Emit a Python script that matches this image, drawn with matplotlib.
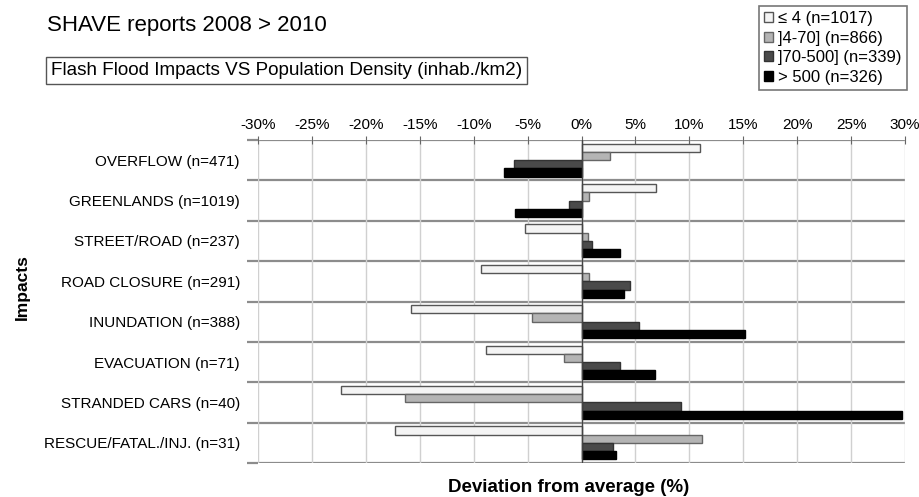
import matplotlib
matplotlib.use("Agg")
import matplotlib.pyplot as plt
from matplotlib.patches import Patch
import numpy as np

plt.rcParams['font.family'] = ['Liberation Sans', 'DejaVu Sans']

categories = ["OVERFLOW (n=471)", "GREENLANDS (n=1019)", "STREET/ROAD (n=237)",
              "ROAD CLOSURE (n=291)", "INUNDATION (n=388)", "EVACUATION (n=71)",
              "STRANDED CARS (n=40)", "RESCUE/FATAL./INJ. (n=31)"]
series_labels = ["≤ 4 (n=1017)", "]4-70] (n=866)", "]70-500] (n=339)", "> 500 (n=326)"]
low = [11.0, 6.9, -5.2, -9.3, -15.8, -8.9, -22.3, -17.3]
mid_low = [2.6, 0.7, 0.6, 0.7, -4.6, -1.6, -16.4, 11.2]
mid_high = [-6.3, -1.2, 1.0, 4.5, 5.3, 3.6, 9.2, 2.9]
high = [-7.2, -6.2, 3.6, 3.9, 15.2, 6.8, 29.7, 3.2]
xticks = list(range(-30, 31, 5))

series = [low, mid_low, mid_high, high]
fills = ["#f4f4f4", "#b4b4b4", "#4a4a4a", "#000000"]
edges = ["#555555", "#666666", "#333333", "#000000"]

W, H = 919, 497
fig = plt.figure(figsize=(W/100, H/100), dpi=100)
ax = fig.add_axes([258/W, 1-463/H, (905-258)/W, (463-140)/H])

n = len(categories)
h = 0.205
for k, (vals, fc, ec) in enumerate(zip(series, fills, edges)):
    y = np.arange(n) + 0.5 + (k - 1.5) * h
    ax.barh(y, vals, height=h, color=fc, edgecolor=ec, linewidth=1.0, zorder=3,
            label=series_labels[k])

ax.set_xlim(-30, 30)
ax.set_ylim(n, 0)
ax.xaxis.tick_top()
ax.set_xticks(xticks)
ax.set_xticklabels([f"{t}%" for t in xticks], fontsize=11)
ax.tick_params(axis='x', which='major', direction='inout', length=6, color='#666666',
               pad=3, top=True, bottom=False)
ax.grid(axis='x', color='#d0d0d0', linewidth=1.0, zorder=0)

# category separators
ax.set_yticks(np.arange(0, n + 1))
ax.set_yticklabels([])
ax.tick_params(axis='y', which='major', direction='out', length=8, width=1.6,
               color='#8c8c8c')
for yy in range(0, n + 1):
    ax.axhline(yy, color='#8c8c8c', linewidth=1.6, zorder=1)
ax.set_yticks(np.arange(n) + 0.5, minor=True)
ax.set_yticklabels(categories, minor=True, fontsize=11)
ax.tick_params(axis='y', which='minor', length=0, pad=13)

ax.axvline(0, color='#444444', linewidth=1.0, zorder=4)
for s in ax.spines.values():
    s.set_visible(False)

ax.set_xlabel("Deviation from average (%)", fontsize=13.5, fontweight='bold')
ax.xaxis.set_label_coords((569-258)/(905-258), (463-488)/(463-140))
ax.xaxis.label.set_va('center')
ax.set_ylabel("Impacts", fontsize=12.5, fontweight='bold')
ax.yaxis.set_label_coords((22-258)/(905-258), (463-287)/(463-140))
ax.yaxis.label.set_va('center')

fig.text(47/W, 1-25/H, "SHAVE reports 2008 > 2010", fontsize=16, va='center', ha='left')
fig.text(51/W, 1-70.5/H, "Flash Flood Impacts VS Population Density (inhab./km2)",
         fontsize=13.6, va='center', ha='left',
         bbox=dict(boxstyle='square,pad=0.25', facecolor='white', edgecolor='#555555', linewidth=1))

handles = [Patch(facecolor=fc, edgecolor=ec, label=lab) for fc, ec, lab in zip(fills, edges, series_labels)]
leg = fig.legend(handles=handles, loc='upper right', bbox_to_anchor=(907/W, 1-6/H),
                 bbox_transform=fig.transFigure,
                 fontsize=12, frameon=True, fancybox=False, handlelength=0.55, handleheight=0.55,
                 handletextpad=0.3, labelspacing=0.28, borderpad=0.3, borderaxespad=0)
leg.get_frame().set_edgecolor('#555555')
leg.get_frame().set_linewidth(1.2)

fig.savefig("out.png", dpi=100)
